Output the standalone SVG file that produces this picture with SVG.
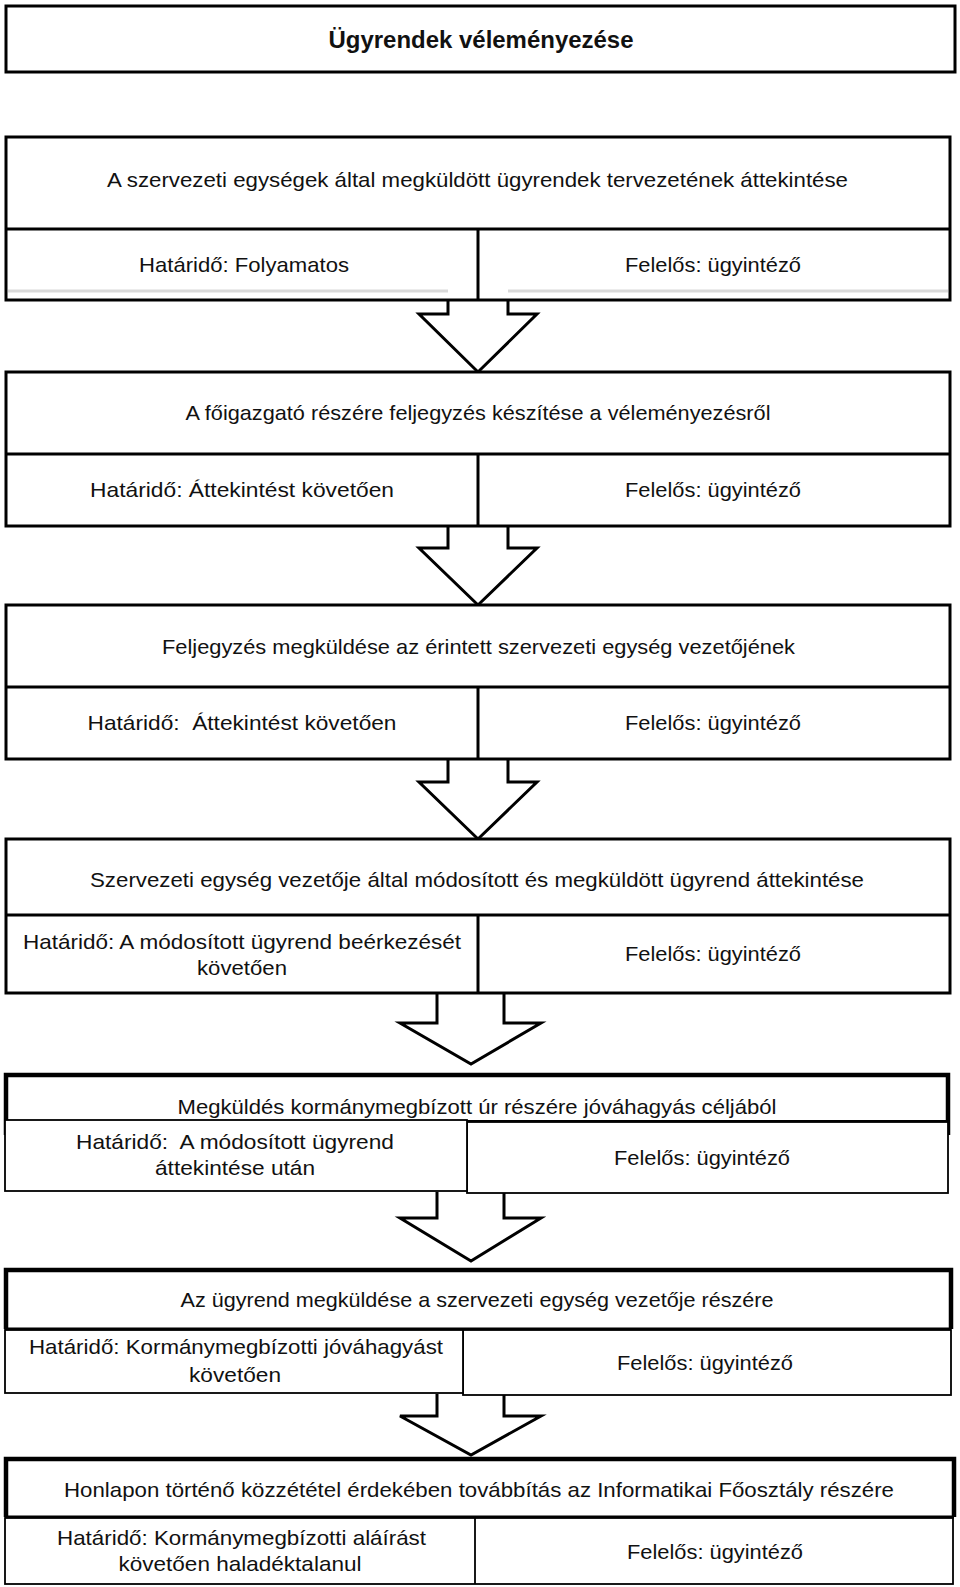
<svg xmlns="http://www.w3.org/2000/svg" width="960" height="1587" viewBox="0 0 960 1587">
<style>
text{font-family:"Liberation Sans",Arial,sans-serif;font-size:21px;fill:#111;text-anchor:middle}
.t{font-weight:bold;font-size:24px}
.b{fill:#fff;stroke:#000;stroke-width:3}
.l{fill:none;stroke:#000;stroke-width:3}
.k{fill:none;stroke:#000;stroke-width:4.5}
.n{fill:#fff;stroke:#000;stroke-width:1.8}
.g{fill:none;stroke:#d9d9d9;stroke-width:3}
.a{fill:#fff;stroke:#000;stroke-width:3;stroke-linejoin:miter}
</style>
<rect width="960" height="1587" fill="#fff"/>
<g id="connectors">
<path class="a" d="M448 299 V314 H419 L478 372 L537 314 H508 V299"/>
<path class="a" d="M448 525 V548 H419 L478 605 L537 548 H508 V525"/>
<path class="a" d="M448 758 V782 H419 L478 839 L537 782 H508 V758"/>
<path class="a" d="M437 992 V1023 H400 L471 1064 L541 1023 H504 V992"/>
<path class="a" d="M437 1192 V1218 H400 L471 1261 L541 1218 H504 V1192"/>
<path class="a" d="M437 1394 V1416 H400 L471 1455 L541 1416 H504 V1394"/>
</g>
<g id="title">
<rect class="b" x="6" y="6" width="949" height="66" stroke-width="4"/>
<text class="t" x="481" y="48" textLength="305" lengthAdjust="spacingAndGlyphs">Ügyrendek véleményezése</text>
</g>
<g id="step1">
<rect class="b" x="6" y="137" width="944" height="163"/>
<line class="l" x1="6" y1="229" x2="950" y2="229"/>
<line class="l" x1="478" y1="229" x2="478" y2="300"/>
<line class="g" x1="8" y1="291" x2="448" y2="291"/>
<line class="g" x1="508" y1="291" x2="948" y2="291"/>
<text x="477.5" y="187" textLength="741" lengthAdjust="spacingAndGlyphs">A szervezeti egységek által megküldött ügyrendek tervezetének áttekintése</text>
<text x="244" y="272" textLength="210" lengthAdjust="spacingAndGlyphs">Határidő: Folyamatos</text>
<text x="713" y="272" textLength="176" lengthAdjust="spacingAndGlyphs">Felelős: ügyintéző</text>
</g>
<g id="step2">
<rect class="b" x="6" y="372" width="944" height="154"/>
<line class="l" x1="6" y1="454" x2="950" y2="454"/>
<line class="l" x1="478" y1="454" x2="478" y2="526"/>
<text x="478" y="420" textLength="585" lengthAdjust="spacingAndGlyphs">A főigazgató részére feljegyzés készítése a véleményezésről</text>
<text x="242" y="497" textLength="304" lengthAdjust="spacingAndGlyphs">Határidő: Áttekintést követően</text>
<text x="713" y="497" textLength="176" lengthAdjust="spacingAndGlyphs">Felelős: ügyintéző</text>
</g>
<g id="step3">
<rect class="b" x="6" y="605" width="944" height="154"/>
<line class="l" x1="6" y1="687" x2="950" y2="687"/>
<line class="l" x1="478" y1="687" x2="478" y2="759"/>
<text x="478.5" y="654" textLength="633" lengthAdjust="spacingAndGlyphs">Feljegyzés megküldése az érintett szervezeti egység vezetőjének</text>
<text x="242" y="730" textLength="309" lengthAdjust="spacingAndGlyphs" xml:space="preserve">Határidő:  Áttekintést követően</text>
<text x="713" y="730" textLength="176" lengthAdjust="spacingAndGlyphs">Felelős: ügyintéző</text>
</g>
<g id="step4">
<rect class="b" x="6" y="839" width="944" height="154"/>
<line class="l" x1="6" y1="915" x2="950" y2="915"/>
<line class="l" x1="478" y1="915" x2="478" y2="993"/>
<text x="477" y="887" textLength="774" lengthAdjust="spacingAndGlyphs">Szervezeti egység vezetője által módosított és megküldött ügyrend áttekintése</text>
<text x="242" y="949" textLength="438" lengthAdjust="spacingAndGlyphs">Határidő: A módosított ügyrend beérkezését</text>
<text x="242" y="975" textLength="90" lengthAdjust="spacingAndGlyphs">követően</text>
<text x="713" y="961" textLength="176" lengthAdjust="spacingAndGlyphs">Felelős: ügyintéző</text>
</g>
<g id="step5">
<rect x="6" y="1075" width="942" height="60" fill="#fff"/>
<path class="k" d="M6 1135 V1075 H948 V1135"/>
<line x1="6" y1="1121" x2="948" y2="1121" stroke="#000" stroke-width="2"/>
<rect class="n" x="467" y="1122" width="481" height="71"/>
<rect class="n" x="5" y="1120" width="462" height="71"/>
<text x="477" y="1114" textLength="599" lengthAdjust="spacingAndGlyphs">Megküldés kormánymegbízott úr részére jóváhagyás céljából</text>
<text x="235" y="1149" textLength="318" lengthAdjust="spacingAndGlyphs" xml:space="preserve">Határidő:  A módosított ügyrend</text>
<text x="235" y="1175" textLength="160" lengthAdjust="spacingAndGlyphs">áttekintése után</text>
<text x="702" y="1165" textLength="176" lengthAdjust="spacingAndGlyphs">Felelős: ügyintéző</text>
</g>
<g id="step6">
<rect x="6" y="1270" width="945" height="59" fill="#fff"/>
<path class="k" d="M6 1329 V1270 H951 V1329"/>
<line class="l" x1="5" y1="1329" x2="951" y2="1329"/>
<rect class="n" x="463" y="1330" width="488" height="65"/>
<rect class="n" x="5" y="1330" width="458" height="63"/>
<text x="477" y="1307" textLength="593" lengthAdjust="spacingAndGlyphs">Az ügyrend megküldése a szervezeti egység vezetője részére</text>
<text x="236" y="1354" textLength="414" lengthAdjust="spacingAndGlyphs">Határidő: Kormánymegbízotti jóváhagyást</text>
<text x="235" y="1382" textLength="92" lengthAdjust="spacingAndGlyphs">követően</text>
<text x="705" y="1370" textLength="176" lengthAdjust="spacingAndGlyphs">Felelős: ügyintéző</text>
</g>
<g id="step7">
<rect x="6" y="1459" width="948" height="58" fill="#fff"/>
<path class="k" d="M6 1517 V1459 H954 V1517"/>
<line class="l" x1="5" y1="1517" x2="954" y2="1517"/>
<rect class="n" x="5" y="1518" width="948" height="66"/>
<line x1="475" y1="1518" x2="475" y2="1584" stroke="#000" stroke-width="1.8"/>
<text x="479" y="1497" textLength="830" lengthAdjust="spacingAndGlyphs">Honlapon történő közzététel érdekében továbbítás az Informatikai Főosztály részére</text>
<text x="241.5" y="1545" textLength="369" lengthAdjust="spacingAndGlyphs">Határidő: Kormánymegbízotti aláírást</text>
<text x="240" y="1571" textLength="243" lengthAdjust="spacingAndGlyphs">követően haladéktalanul</text>
<text x="715" y="1559" textLength="176" lengthAdjust="spacingAndGlyphs">Felelős: ügyintéző</text>
</g>
</svg>
